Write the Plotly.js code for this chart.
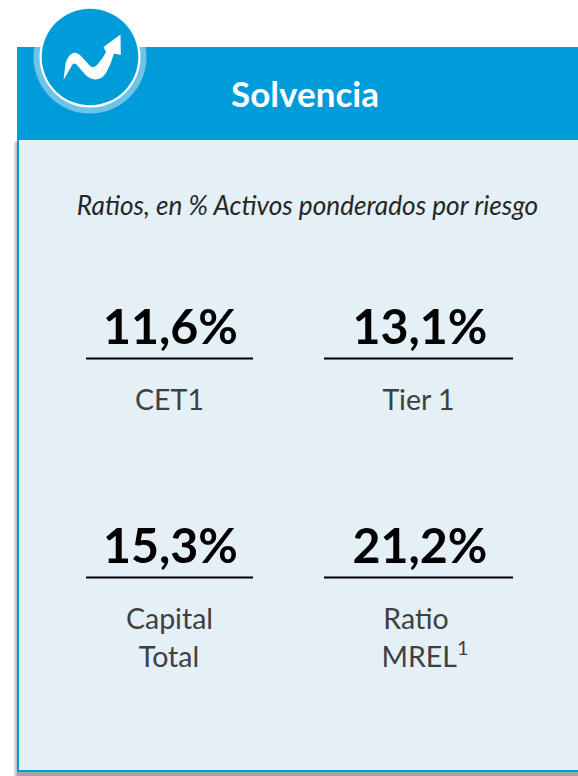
<!DOCTYPE html>
<html><head><meta charset="utf-8">
<script src="https://cdn.plot.ly/plotly-3.0.1.min.js"></script>
<style>html,body{margin:0;padding:0;background:#fff;overflow:hidden}#c{width:578px;height:776px}</style>
</head><body><div id="c"></div>
<script>
const titleText = "Solvencia";
const subtitleText = "Ratios, en % Activos ponderados por riesgo";
const ratioValues = ["11,6%", "13,1%", "15,3%", "21,2%"];
const ratioLabels = [["CET1"], ["Tier 1"], ["Capital", "Total"], ["Ratio", "MREL<sup>1</sup>"]];

const slots = [
  {x:170.5, y:332, line:[86,253,358.5], labels:[[169.5,403]]},
  {x:420, y:332, line:[324,513,358.5], labels:[[418.5,403]]},
  {x:170.5, y:551, line:[86,253,577.5], labels:[[169.5,622],[169,660]]},
  {x:420, y:551, line:[324,513,577.5], labels:[[416,622],[425,660]]}
];
const rect=(x0,y0,x1,y1,fill)=>({type:'rect',xref:'x',yref:'y',x0,y0,x1,y1,fillcolor:fill,line:{width:0},layer:'below'});
const circ=(cx,cy,r,fill)=>({type:'circle',xref:'x',yref:'y',x0:cx-r,y0:cy-r,x1:cx+r,y1:cy+r,fillcolor:fill,line:{width:0},layer:'below'});
const shapes=[
  rect(13,143,17,776,'rgba(120,120,120,0.10)'),
  rect(14.5,142,17,776,'rgba(120,120,120,0.18)'),
  rect(15.5,141,17,776,'rgba(120,120,120,0.28)'),
  rect(17,772,578,776,'#a3a3a3'),
  rect(17,47,578,772,'#009BD9'),
  rect(19,140,578,770,'#E4EFF6'),
  circ(90,57,56.5,'#6FC3E8'),
  rect(0,0,578,47,'#ffffff'),
  circ(90,57,50.5,'#ffffff'),
  circ(90,57,48.3,'#009BD9'),
  {type:'path',xref:'x',yref:'y',fillcolor:'#ffffff',line:{width:0},layer:'above',
   path:'M63.5,80 L65.5,64 Q67,56 73,53 Q77,52 82,57 L90,66 Q94,69 98,64 Q103,58 106,52 L103.5,47 L120.5,34.5 L120.8,55 L114,53.5 Q111,64 106,73 Q101,80 95,79.5 Q88,79 83,72 L76,64 Q73,62 71,67 Z'}
];
slots.forEach(s=>shapes.push({type:'line',xref:'x',yref:'y',x0:s.line[0],x1:s.line[1],y0:s.line[2],y1:s.line[2],line:{color:'#000',width:2},layer:'above'}));

const FONT='Lato, "Open Sans", sans-serif';
const traces=[
 {type:'scatter',mode:'text',x:slots.map(s=>s.x),y:slots.map(s=>s.y),text:ratioValues,
  textposition:'middle center',textfont:{family:FONT,size:48.3,color:'#000',weight:700},hoverinfo:'skip'},
 {type:'scatter',mode:'text',
  x:slots.flatMap(s=>s.labels.map(l=>l[0])),y:slots.flatMap(s=>s.labels.map(l=>l[1])),
  text:ratioLabels.flat(),textposition:'middle center',textfont:{family:FONT,size:28.5,color:'#404040'},hoverinfo:'skip'},
 {type:'scatter',mode:'text',x:[305],y:[98],text:[titleText],textposition:'middle center',
  textfont:{family:FONT,size:35,color:'#fff',weight:700},hoverinfo:'skip'},
 {type:'scatter',mode:'text',x:[307.5],y:[208],text:[subtitleText],textposition:'middle center',
  textfont:{family:FONT,size:26.2,color:'#262626',style:'italic'},hoverinfo:'skip'}
];
Plotly.newPlot('c',traces,{
  width:578,height:776,margin:{l:0,r:0,t:0,b:0},showlegend:false,
  paper_bgcolor:'#fff',plot_bgcolor:'#fff',
  xaxis:{range:[0,578],visible:false,fixedrange:true},
  yaxis:{range:[776,0],visible:false,fixedrange:true},
  shapes
},{displayModeBar:false,staticPlot:true});
</script></body></html>
